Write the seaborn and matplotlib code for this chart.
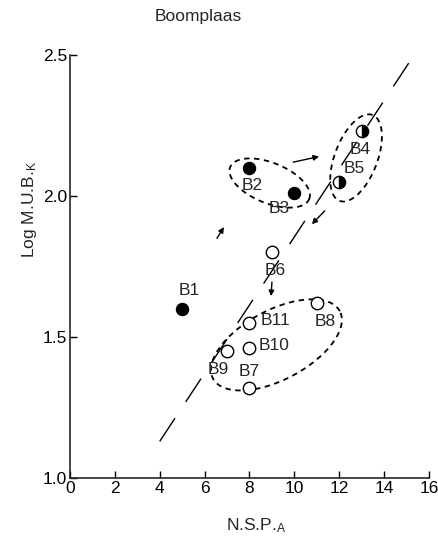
import numpy as np
import pandas as pd
import seaborn as sns
from matplotlib import pyplot as plt

sns.set_style('ticks')
plt.rcParams['font.family'] = ['Liberation Sans', 'DejaVu Sans']

# samples
sites = ['B1', 'B2', 'B3', 'B4', 'B5', 'B6', 'B7', 'B8', 'B9', 'B10', 'B11']
nsp = [5, 8, 10, 13, 12, 9, 8, 11, 7, 8, 8]
log_mub = [1.60, 2.10, 2.01, 2.23, 2.05, 1.80, 1.32, 1.62, 1.45, 1.46, 1.55]
fill = ['full', 'full', 'full', 'half', 'half', 'open', 'open', 'open', 'open', 'open', 'open']

# label offsets (points) relative to each marker
label_dx = [5, 2, -11, -1, 11, 2, 0, 6, -6, 18, 19]
label_dy = [13, -13, -11, -13, 10, -13, 12, -13, -13, 2, 2]

# long dashed trend line end points
trend_x = [4.0, 15.5]
trend_y = [1.13, 2.52]

# arrows: (tail x, tail y, head x, head y)
arrow_tail_x = [6.55, 9.95, 11.35, 9.0]
arrow_tail_y = [1.85, 2.12, 1.947, 1.695]
arrow_head_x = [6.86, 11.1, 10.78, 8.96]
arrow_head_y = [1.89, 2.14, 1.90, 1.645]

# dashed group ellipses: centre, semi axes (in x units) and tilt (deg)
ell_cx = [8.9, 12.75, 9.2]
ell_cy = [2.046, 2.135, 1.472]
ell_a = [1.9, 2.05, 3.2]
ell_b = [0.9, 0.95, 1.55]
ell_ang = [-22, 69, 28]

x_ticks = [0, 2, 4, 6, 8, 10, 12, 14, 16]
y_ticks = [1.0, 1.5, 2.0, 2.5]

df = pd.DataFrame({'site': sites, 'nsp': nsp, 'log_mub': log_mub, 'fill': fill})

fig = plt.figure(figsize=(4.38, 5.39), dpi=100)
ax = fig.add_axes([70 / 438, 1 - 478 / 539, (429 - 70) / 438, (478 - 55) / 539])
ax.set_xlim(0, 16)
ax.set_ylim(1.0, 2.5)

full = df[df['fill'] == 'full']
sns.scatterplot(data=full, x='nsp', y='log_mub', color='black', s=75,
                edgecolor='black', linewidth=1, ax=ax, zorder=3)
opn = df[df['fill'] == 'open']
sns.scatterplot(data=opn, x='nsp', y='log_mub', color='black', s=80,
                edgecolor='black', linewidth=1, ax=ax, zorder=3)
ax.collections[-1].set_facecolor('white')
half = df[df['fill'] == 'half']
ax.plot(half['nsp'], half['log_mub'], 'o', ms=8.8, fillstyle='right',
        markerfacecolor='black', markerfacecoloralt='white',
        markeredgecolor='black', markeredgewidth=1, zorder=3)

for i, s in enumerate(sites):
    ax.annotate(s, (nsp[i], log_mub[i]), xytext=(label_dx[i], label_dy[i]),
                textcoords='offset points', ha='center', va='center', fontsize=12.5)

# trend line
ax.plot(trend_x, trend_y, color='black', lw=1, linestyle=(0, (20, 14)), clip_on=False)

for i in range(len(arrow_tail_x)):
    ax.annotate('', xy=(arrow_head_x[i], arrow_head_y[i]),
                xytext=(arrow_tail_x[i], arrow_tail_y[i]),
                arrowprops=dict(arrowstyle='-|>', color='black', lw=1,
                                mutation_scale=8, shrinkA=0, shrinkB=0))

# ellipses drawn in "visual" units so they keep their shape on screen
bbox = ax.get_window_extent()
k = (bbox.height / 1.5) / (bbox.width / 16)
t = np.linspace(0, 2 * np.pi, 200)
for i in range(len(ell_cx)):
    th = np.radians(ell_ang[i])
    u = ell_a[i] * np.cos(t)
    v = ell_b[i] * np.sin(t)
    dx = u * np.cos(th) - v * np.sin(th)
    dy = (u * np.sin(th) + v * np.cos(th)) / k
    ax.plot(ell_cx[i] + dx, ell_cy[i] + dy, color='black', lw=1.3,
            linestyle=(0, (3, 2.5)))

sns.despine(ax=ax)
ax.spines['left'].set_linewidth(1.2)
ax.spines['bottom'].set_linewidth(1.2)
ax.set_xticks(x_ticks)
ax.set_yticks(y_ticks)
ax.set_yticklabels([f'{v:.1f}' for v in y_ticks])
ax.tick_params(direction='in', length=5, width=1, labelsize=12.5, colors='black')
ax.tick_params(axis='y', pad=2)
ax.tick_params(axis='x', pad=2)

ax.set_xlabel(r'N.S.P.$\mathregular{_A}$', fontsize=12.5)
ax.set_ylabel(r'Log M.U.B.$\mathregular{_K}$', fontsize=12.5)
ax.xaxis.set_label_coords(0.52, -0.09)
ax.yaxis.set_label_coords(-0.085, 0.634)

fig.text(198 / 438, 1 - 17 / 539, 'Boomplaas', ha='center', va='center', fontsize=12.5)

fig.savefig('out.png', dpi=100)
